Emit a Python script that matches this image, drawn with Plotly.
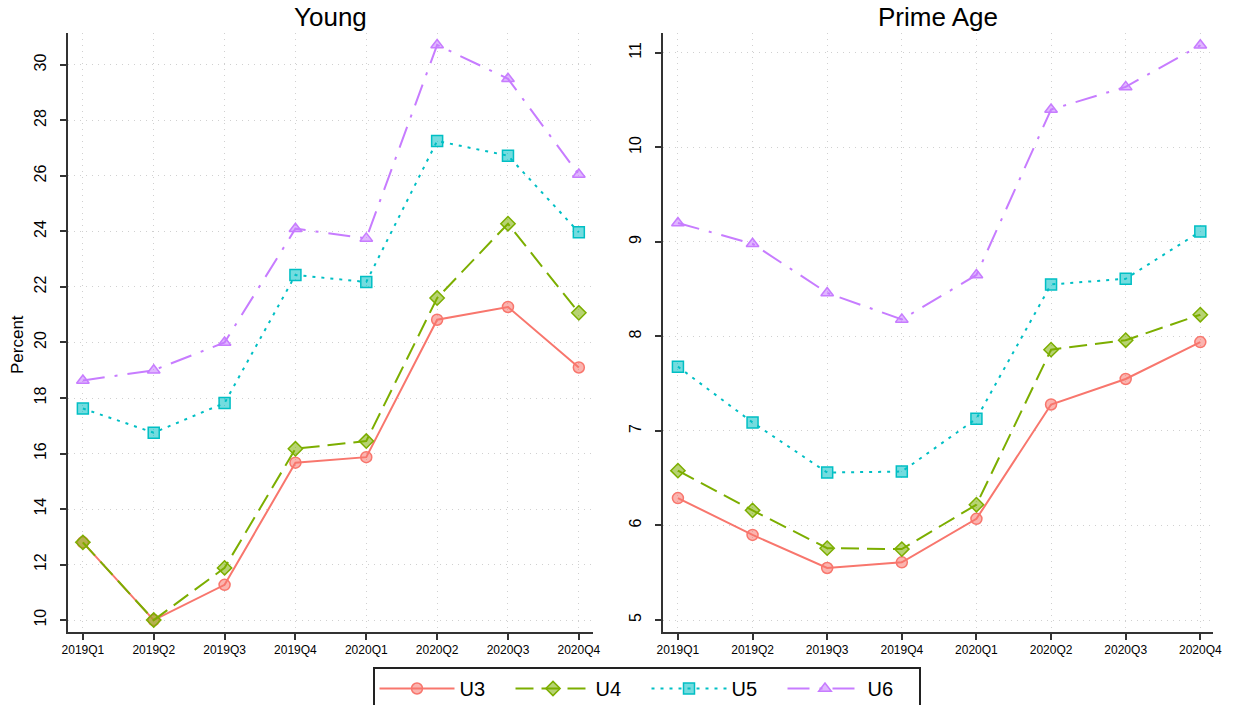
import plotly.graph_objects as go

quarters = ["2019Q1", "2019Q2", "2019Q3", "2019Q4", "2020Q1", "2020Q2", "2020Q3", "2020Q4"]
series_names = ["U3", "U4", "U5", "U6"]

young_u3 = [12.8, 10.0, 11.27, 15.67, 15.87, 20.82, 21.28, 19.1]
young_u4 = [12.8, 10.0, 11.88, 16.17, 16.45, 21.6, 24.28, 21.07]
young_u5 = [17.62, 16.75, 17.82, 22.43, 22.18, 27.26, 26.73, 23.97]
young_u6 = [18.63, 19.0, 20.0, 24.1, 23.75, 30.72, 29.5, 26.05]

prime_u3 = [6.29, 5.9, 5.55, 5.61, 6.07, 7.28, 7.55, 7.94]
prime_u4 = [6.58, 6.16, 5.76, 5.75, 6.22, 7.86, 7.96, 8.23]
prime_u5 = [7.68, 7.09, 6.56, 6.57, 7.13, 8.55, 8.61, 9.11]
prime_u6 = [9.2, 8.98, 8.46, 8.18, 8.65, 10.4, 10.64, 11.08]

colors = ["#F8766D", "#7CAE00", "#00BFC4", "#C77CFF"]
fills = ["rgba(248,118,109,0.55)", "rgba(124,174,0,0.55)", "rgba(0,191,196,0.55)", "rgba(199,124,255,0.55)"]
dashes = ["solid", "18px,8px", "3px,6px", "22px,10px,3px,10px"]
symbols = ["circle", "diamond", "square", "triangle-up"]

W, H = 1235, 705


def px(x):
    return x / W


def py(y):
    return 1 - y / H


fig = go.Figure()

panels = [
    ([young_u3, young_u4, young_u5, young_u6], "x", "y", True),
    ([prime_u3, prime_u4, prime_u5, prime_u6], "x2", "y2", False),
]
for data, xa, ya, show in panels:
    for i, name in enumerate(series_names):
        fig.add_trace(go.Scatter(
            x=quarters, y=data[i], name=name, xaxis=xa, yaxis=ya,
            mode="lines+markers", showlegend=show,
            line=dict(color=colors[i], width=2, dash=dashes[i]),
            marker=dict(symbol=symbols[i], size=11, color=fills[i],
                        line=dict(color=colors[i], width=1.5)),
        ))

axis_common = dict(
    showline=True, linecolor="#333333", linewidth=2, mirror=False,
    showgrid=True, gridcolor="#d0d0d0", griddash="1px,5px", gridwidth=1,
    ticks="outside", ticklen=6, tickcolor="#333333", tickwidth=1.5,
    zeroline=False, automargin=False,
)

fig.update_layout(
    width=W, height=H,
    margin=dict(l=0, r=0, t=0, b=0, autoexpand=False),
    plot_bgcolor="white", paper_bgcolor="white",
    font=dict(family="Liberation Sans, Arial, sans-serif", color="black"),
    xaxis=dict(domain=[px(68), px(593)], range=[-0.21, 7.2], anchor="y",
               tickfont=dict(size=12), **axis_common),
    yaxis=dict(domain=[py(632), py(33)], range=[9.57, 31.15], anchor="x",
               tickvals=list(range(10, 31, 2)), tickangle=-90, ticklabelstandoff=8,
               tickfont=dict(size=16), **axis_common),
    xaxis2=dict(domain=[px(663), px(1213)], range=[-0.2, 7.17], anchor="y2",
                tickfont=dict(size=12), **axis_common),
    yaxis2=dict(domain=[py(632), py(33)], range=[4.873, 11.21], anchor="x2",
                tickvals=list(range(5, 12)), tickangle=-90, ticklabelstandoff=8,
                tickfont=dict(size=16), **axis_common),
    legend=dict(orientation="h", x=px(646.5), xanchor="center", y=py(667), yanchor="top",
                bordercolor="#222222", borderwidth=2, font=dict(size=20),
                itemwidth=75, entrywidth=46, entrywidthmode="pixels",
                tracegroupgap=0),
    annotations=[
        dict(text="Young", x=px(330), y=py(17), xref="paper", yref="paper",
             showarrow=False, font=dict(size=26), xanchor="center", yanchor="middle"),
        dict(text="Prime Age", x=px(938), y=py(17), xref="paper", yref="paper",
             showarrow=False, font=dict(size=26), xanchor="center", yanchor="middle"),
        dict(text="Percent", x=px(18), y=py(345), xref="paper", yref="paper",
             showarrow=False, font=dict(size=17), textangle=-90,
             xanchor="center", yanchor="middle"),
    ],
)

fig.write_html("out.html", config={"displayModeBar": False},
               post_script="document.body.style.margin='0';document.body.style.overflow='hidden';")
